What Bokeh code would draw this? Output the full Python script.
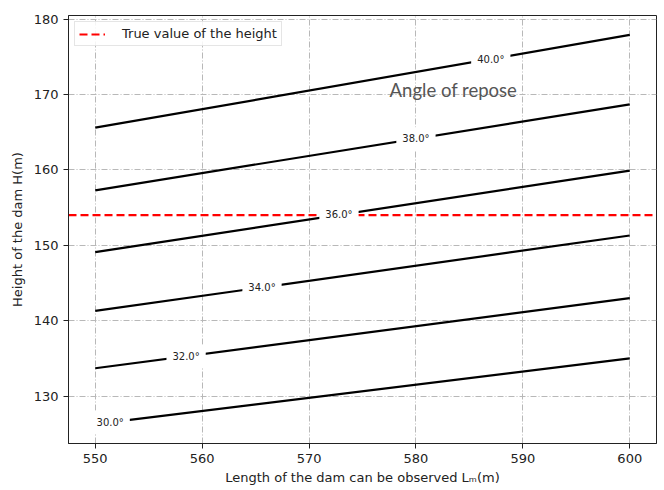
import numpy as np
from bokeh.plotting import figure
from bokeh.models import Range1d, Label, FixedTicker
from bokeh.embed import file_html
from bokeh.resources import INLINE

# ---- data ----
angles = [30.0, 32.0, 34.0, 36.0, 38.0, 40.0]
L_obs = [550, 600]
H_at_550 = [126.3, 133.7, 141.3, 149.1, 157.3, 165.6]
H_at_600 = [135.0, 143.0, 151.3, 159.9, 168.7, 177.9]
label_x = [551.4, 558.5, 565.6, 572.8, 580.0, 587.0]
true_height = 154.0
x_ticks = [550, 560, 570, 580, 590, 600]
y_ticks = [130, 140, 150, 160, 170, 180]
annot_text = "Angle of repose"
annot_pos = (583.5, 170.6)

# ranges with 5% padding like matplotlib
xmin, xmax = min(L_obs), max(L_obs)
ymin, ymax = min(H_at_550), max(H_at_600)
xpad = 0.05 * (xmax - xmin)
ypad = 0.05 * (ymax - ymin)
x_lo, x_hi = xmin - xpad, xmax + xpad

FONT = "DejaVu Sans"

p = figure(
    frame_width=588, frame_height=428,
    min_border_left=68, min_border_top=15, min_border_right=6, min_border_bottom=40,
    x_range=Range1d(x_lo, x_hi), y_range=Range1d(ymin - ypad, ymax + ypad),
    output_backend="svg", toolbar_location=None,
    background_fill_color="white", border_fill_color="white",
)

p.outline_line_color = "#222222"
p.outline_line_width = 1

for ax in (p.xaxis[0], p.yaxis[0]):
    ax.axis_line_color = "#222222"
    ax.major_tick_line_color = "#222222"
    ax.minor_tick_line_color = None
    ax.major_tick_out = 5
    ax.major_tick_in = 0
    ax.major_label_text_font = FONT
    ax.major_label_text_font_size = "13px"
    ax.major_label_text_color = "#222222"
    ax.axis_label_text_font = FONT
    ax.axis_label_text_font_size = "13px"
    ax.axis_label_text_font_style = "normal"
    ax.axis_label_text_color = "#222222"

p.xaxis.ticker = FixedTicker(ticks=x_ticks)
p.yaxis.ticker = FixedTicker(ticks=y_ticks)
p.xaxis.axis_label = "Length of the dam can be observed Lₘ(m)"
p.yaxis.axis_label = "Height of the dam H(m)"
p.xaxis.axis_label_standoff = 4
p.yaxis.axis_label_standoff = 6

for g in (p.xgrid[0], p.ygrid[0]):
    g.grid_line_color = "#b8b8b8"
    g.grid_line_dash = "6 2 1 2"
    g.grid_line_width = 1

# contour lines
for a, h0, h1 in zip(angles, H_at_550, H_at_600):
    p.line(L_obs, [h0, h1], line_color="black", line_width=2.2)

# true height line
p.line([x_lo, x_hi], [true_height, true_height], line_color="red",
       line_width=2.2, line_dash="8 4", legend_label="True value of the height")

# contour labels (white box gives the gap in the line)
for a, lx, h0, h1 in zip(angles, label_x, H_at_550, H_at_600):
    ly = float(np.interp(lx, L_obs, [h0, h1]))
    p.add_layout(Label(
        x=lx, y=ly, text=f"{a:.1f}°",
        text_font=FONT, text_font_size="10px", text_color="#222222",
        text_align="center", text_baseline="middle",
        background_fill_color="white", padding=6,
    ))

p.add_layout(Label(
    x=annot_pos[0], y=annot_pos[1], text=annot_text,
    text_font="Lato", text_font_size="18.5px", text_color="#555555",
    text_align="center", text_baseline="middle",
))

lg = p.legend[0]
lg.location = "top_left"
lg.margin = 6
lg.padding = 4
lg.label_text_font = FONT
lg.label_text_font_size = "13px"
lg.label_text_color = "#222222"
lg.label_height = 14
lg.glyph_height = 14
lg.glyph_width = 26
lg.label_standoff = 17
lg.border_line_color = "#cccccc"
lg.background_fill_alpha = 0.85
lg.spacing = 0

open("out.html", "w").write(file_html(p, INLINE))
